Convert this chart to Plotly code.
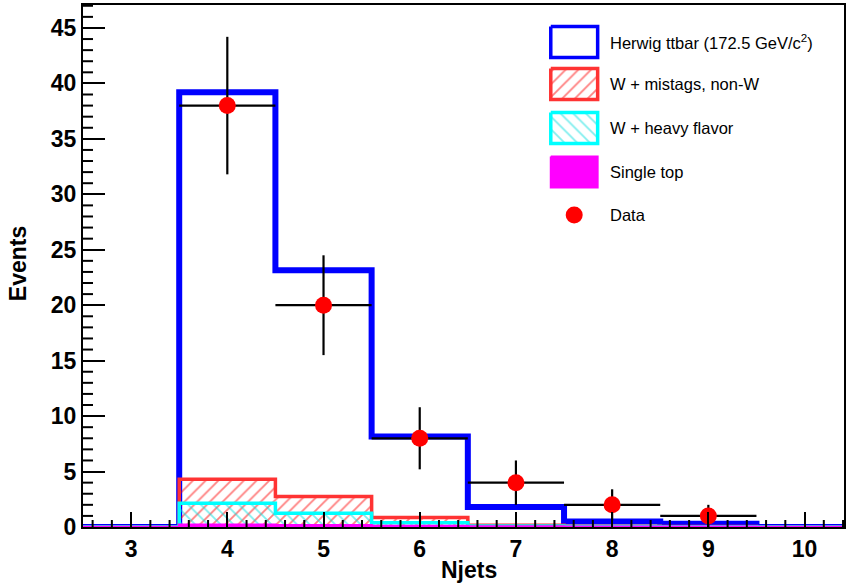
import plotly.graph_objects as go

# ---------------- data ----------------
njets_edges = [2.5, 3.5, 4.5, 5.5, 6.5, 7.5, 8.5, 9.5, 10.5]
ttbar_level = [0.0, 39.2, 23.15, 8.15, 1.8, 0.5, 0.3, 0.0]      # Herwig ttbar (stack top)
mistag_level = [0.0, 4.3, 2.75, 0.85, 0.15, 0.06, 0.04, 0.0]    # W + mistags, non-W
hf_level = [0.0, 2.15, 1.25, 0.38, 0.1, 0.04, 0.02, 0.0]        # W + heavy flavor
singletop_level = [0.0, 0.2, 0.15, 0.1, 0.05, 0.03, 0.02, 0.0]  # Single top

data_x = [4, 5, 6, 7, 8, 9]
data_y = [38, 20, 8, 4, 2, 1]
data_err = [6.2, 4.5, 2.8, 2.0, 1.4, 1.0]
data_xerr = [0.5, 0.5, 0.5, 0.5, 0.5, 0.5]

legend_labels = ["Herwig ttbar (172.5 GeV/c<sup>2</sup>)", "W + mistags, non-W",
                 "W + heavy flavor", "Single top", "Data"]

W, H = 846, 583
ML, MR, MT, MB = 83, 0, 5, 56
PW, PH = W - ML - MR, H - MT - MB
XR = [2.5, 10.41]
YR = [0, 47.07]

FONT = "Liberation Sans"


def px(xp):
    return (xp - ML) / PW


def py(yp):
    return 1 - (yp - MT) / PH


def dx(xp):  # pixel -> data x (legend layout only)
    return XR[0] + px(xp) * (XR[1] - XR[0])


def dy(yp):  # pixel -> data y (legend layout only)
    return YR[0] + py(yp) * (YR[1] - YR[0])


def step(levels):
    return njets_edges, levels + [levels[-1]]


fig = go.Figure()

sx, sy = step(ttbar_level)
fig.add_trace(go.Scatter(x=sx, y=sy, mode="lines", line=dict(color="#0000ff", width=6, shape="hv"),
                         hoverinfo="skip", showlegend=False))
sx, sy = step(mistag_level)
fig.add_trace(go.Scatter(x=sx, y=sy, mode="lines", line=dict(color="#ff3333", width=3.5, shape="hv"),
                         fill="tozeroy", fillcolor="rgba(0,0,0,0)",
                         fillpattern=dict(shape="/", fgcolor="#ff0000", bgcolor="rgba(0,0,0,0)",
                                          size=9, solidity=0.2),
                         hoverinfo="skip", showlegend=False))
sx, sy = step(hf_level)
fig.add_trace(go.Scatter(x=sx, y=sy, mode="lines", line=dict(color="#00ffff", width=3.5, shape="hv"),
                         fill="tozeroy", fillcolor="rgba(0,0,0,0)",
                         fillpattern=dict(shape="\\", fgcolor="#00dddd", bgcolor="rgba(0,0,0,0)",
                                          size=9, solidity=0.2),
                         hoverinfo="skip", showlegend=False))
sx, sy = step(singletop_level)
fig.add_trace(go.Scatter(x=sx, y=sy, mode="lines", line=dict(color="#ff00ff", width=2.5, shape="hv"),
                         fill="tozeroy", fillcolor="#ff00ff",
                         hoverinfo="skip", showlegend=False))
fig.add_trace(go.Scatter(x=data_x, y=data_y, mode="markers",
                         marker=dict(color="#ff0000", size=17, symbol="circle", line=dict(width=0)),
                         error_y=dict(type="data", array=data_err, color="black", thickness=2.2, width=0),
                         error_x=dict(type="data", array=data_xerr, color="black", thickness=2.2, width=0),
                         hoverinfo="skip", showlegend=False))

# ---------------- custom legend ----------------
row_y = [42, 84, 128, 172, 215]
bx0, bx1 = 552, 599
bh = 15.5


def box(yc):
    xs = [bx0, bx1, bx1, bx0, bx0]
    ys = [yc - bh, yc - bh, yc + bh, yc + bh, yc - bh]
    return [dx(v) for v in xs], [dy(v) for v in ys]


lx, ly = box(row_y[0])
fig.add_trace(go.Scatter(x=lx, y=ly, mode="lines", fill="toself",
                         fillcolor="white", line=dict(color="#0000ff", width=3.5),
                         hoverinfo="skip", showlegend=False))
lx, ly = box(row_y[1])
fig.add_trace(go.Scatter(x=lx, y=ly, mode="lines", fill="toself",
                         fillcolor="rgba(0,0,0,0)",
                         fillpattern=dict(shape="/", fgcolor="#ff0000", bgcolor="rgba(0,0,0,0)",
                                          size=9, solidity=0.2),
                         line=dict(color="#ff3333", width=3.5),
                         hoverinfo="skip", showlegend=False))
lx, ly = box(row_y[2])
fig.add_trace(go.Scatter(x=lx, y=ly, mode="lines", fill="toself",
                         fillcolor="rgba(0,0,0,0)",
                         fillpattern=dict(shape="\\", fgcolor="#00dddd", bgcolor="rgba(0,0,0,0)",
                                          size=9, solidity=0.2),
                         line=dict(color="#00ffff", width=3.5),
                         hoverinfo="skip", showlegend=False))
lx, ly = box(row_y[3])
fig.add_trace(go.Scatter(x=lx, y=ly, mode="lines", fill="toself",
                         fillcolor="#ff00ff", line=dict(color="#ff00ff", width=2),
                         hoverinfo="skip", showlegend=False))
fig.add_trace(go.Scatter(x=[dx((bx0 + bx1) / 2)], y=[dy(row_y[4])], mode="markers",
                         marker=dict(color="#ff0000", size=17),
                         hoverinfo="skip", showlegend=False))

annotations = []
for lab, yc in zip(legend_labels, row_y):
    annotations.append(dict(x=px(609), y=py(yc), xref="paper", yref="paper", text=lab, showarrow=False,
                            xanchor="left", yanchor="middle",
                            font=dict(family=FONT, size=16.5, color="black")))
annotations.append(dict(x=px(470), y=py(570), xref="paper", yref="paper", text="Njets", showarrow=False,
                        xanchor="center", yanchor="middle",
                        font=dict(family=FONT, size=23, color="black", weight="bold")))
annotations.append(dict(x=px(18), y=py(264), xref="paper", yref="paper",
                        text="Events", showarrow=False, textangle=-90,
                        xanchor="center", yanchor="middle",
                        font=dict(family=FONT, size=23, color="black", weight="bold")))

# ---------------- minor tick marks (axis decoration, pixel-length shapes) ----------------
shapes = []
x_minor = [round(XR[0] + 0.1 + 0.2 * k, 1) for k in range(40)]
for v in x_minor:
    if v < XR[1] and abs(v - round(v)) > 1e-6:
        shapes.append(dict(type="line", xref="x", yref="y", ysizemode="pixel", yanchor=0,
                           x0=v, x1=v, y0=0, y1=7, line=dict(color="black", width=2), layer="above"))
for v in range(1, 48):
    if v < YR[1] and v % 5 != 0:
        shapes.append(dict(type="line", xref="x", yref="y", xsizemode="pixel", xanchor=XR[0],
                           x0=0, x1=10, y0=v, y1=v, line=dict(color="black", width=2), layer="above"))

fig.update_layout(
    width=W, height=H,
    margin=dict(l=ML, r=MR, t=MT, b=MB, pad=0),
    paper_bgcolor="white", plot_bgcolor="white",
    showlegend=False,
    annotations=annotations,
    shapes=shapes,
    xaxis=dict(range=XR, tickmode="linear", tick0=3, dtick=1,
               ticks="inside", ticklen=15, tickwidth=2, tickcolor="black",
               showline=True, linecolor="black", linewidth=2, mirror=True,
               showgrid=False, zeroline=False,
               tickfont=dict(family=FONT, size=23, color="black", weight="bold")),
    yaxis=dict(range=YR, tickmode="linear", tick0=0, dtick=5,
               ticks="inside", ticklen=22, tickwidth=2, tickcolor="black",
               showline=True, linecolor="black", linewidth=2, mirror=True,
               showgrid=False, zeroline=False,
               tickfont=dict(family=FONT, size=23, color="black", weight="bold")),
)

fig.write_html("out.html")
